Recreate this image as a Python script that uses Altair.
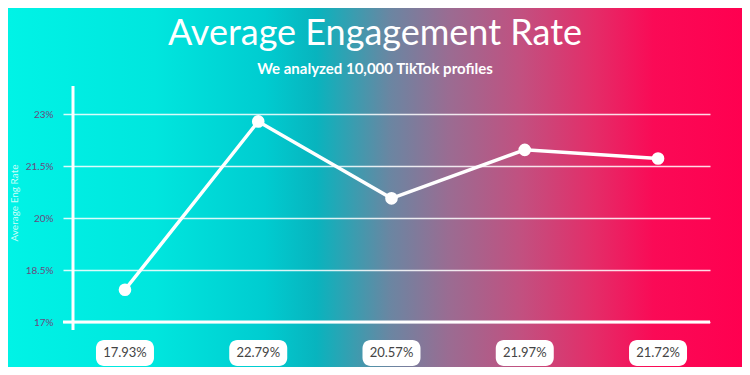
import altair as alt
import pandas as pd

categories = ["A", "B", "C", "D", "E"]
values = [17.93, 22.79, 20.57, 21.97, 21.72]
labels = ["17.93%", "22.79%", "20.57%", "21.97%", "21.72%"]
tick_values = [17, 18.5, 20, 21.5, 23]
title_text = "Average Engagement Rate"
subtitle_text = "We analyzed 10,000 TikTok profiles"

df = pd.DataFrame({"cat": categories, "val": values, "label": labels})

W, H = 637, 239
PL, PT, PR, PB = 65, 75, 32, 45

grad = alt.Gradient(
    gradient="linear", x1=0, x2=1, y1=0, y2=0,
    stops=[
        alt.GradientStop(color="#00F3E6", offset=0.0),
        alt.GradientStop(color="#00E6DE", offset=0.2),
        alt.GradientStop(color="#00CCD0", offset=0.35),
        alt.GradientStop(color="#08B4BE", offset=0.42),
        alt.GradientStop(color="#6A86A2", offset=0.52),
        alt.GradientStop(color="#9A6C92", offset=0.6),
        alt.GradientStop(color="#C25080", offset=0.7),
        alt.GradientStop(color="#E42C68", offset=0.8),
        alt.GradientStop(color="#FA0A56", offset=0.88),
        alt.GradientStop(color="#FF0050", offset=1.0),
    ],
)

base = alt.Chart(df)
one = "datum.cat == 'A'"

bg = base.mark_rect(fill=grad).encode(
    x=alt.value(-PL), x2=alt.value(W + PR), y=alt.value(-PT), y2=alt.value(H + PB)
).transform_filter(one)

xs = alt.X("cat:N", scale=alt.Scale(type="point", padding=0.39), axis=None)
ys = alt.Y(
    "val:Q",
    scale=alt.Scale(domain=[17, 23.9], nice=False, zero=False),
    axis=alt.Axis(
        values=tick_values,
        labelExpr="datum.value + '%'",
        labelColor="#6B4A7E",
        labelFontSize=10,
        labelFont="Lato",
        labelPadding=10,
        tickSize=10,
        tickColor="#FFFFFF",
        tickOpacity=0.85,
        tickWidth=1.5,
        grid=True,
        gridColor="#FFFFFF",
        gridOpacity=0.85,
        gridWidth=1.5,
        domain=False,
        title="Average Eng Rate",
        titleColor="#C8FFFA",
        titleFontSize=10,
        titleFont="Lato",
        titleFontWeight="normal",
        titlePadding=6,
        zindex=1,
    ),
)

yaxis_line = base.mark_rule(color="white", strokeWidth=3).encode(
    x=alt.value(0), y=alt.value(3), y2=alt.value(H + 8)
).transform_filter(one)

xaxis_line = base.mark_rule(color="white", strokeWidth=3).encode(
    x=alt.value(-10), x2=alt.value(W), y=alt.value(H)
).transform_filter(one)

line = base.mark_line(color="white", strokeWidth=3.5).encode(x=xs, y=ys)
pts = base.mark_circle(color="white", opacity=1, size=160).encode(x=xs, y=alt.Y("val:Q"))

boxes = base.mark_rect(fill="white", cornerRadius=8, width=58, height=26).encode(
    x=xs, y=alt.value(H + 31)
)
txt = base.mark_text(color="#444444", fontSize=13, font="Lato").encode(
    x=xs, y=alt.value(H + 31), text="label:N"
)

title = base.mark_text(
    color="white", fontSize=36, font="Lato", fontWeight="normal", baseline="alphabetic"
).encode(
    x=alt.value(302), y=alt.value(-38), text=alt.value(title_text)
).transform_filter(one)

subtitle = base.mark_text(
    color="white", fontSize=15, font="Lato", fontWeight="bold", baseline="alphabetic"
).encode(
    x=alt.value(302), y=alt.value(-9), text=alt.value(subtitle_text)
).transform_filter(one)

chart = alt.layer(
    bg, line, xaxis_line, yaxis_line, pts, boxes, txt, title, subtitle
).properties(
    width=W,
    height=H,
    padding={"left": PL, "top": PT, "right": PR, "bottom": PB},
    autosize=alt.AutoSizeParams(type="none"),
).configure_view(stroke=None)

chart.save("out.html", embed_options={"renderer": "svg", "actions": False})
